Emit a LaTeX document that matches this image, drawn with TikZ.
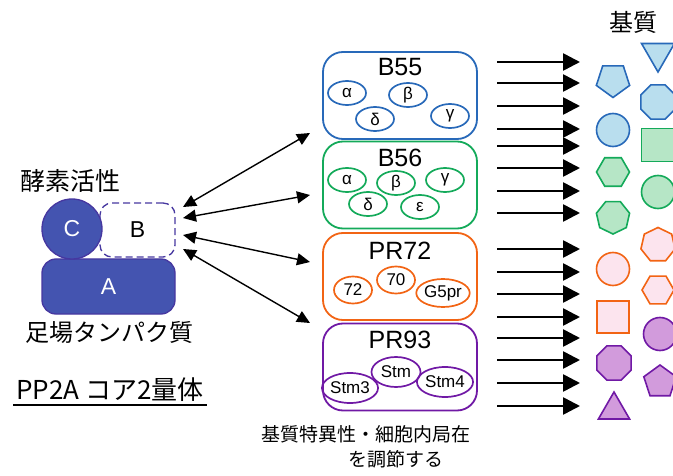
\documentclass[tikz,border=0pt]{standalone}
\usepackage{fontspec}
\setmainfont{Liberation Sans}
\newfontfamily\jp{Noto Sans CJK JP}
\usetikzlibrary{shapes.geometric,arrows.meta}
\definecolor{bS}{RGB}{40,105,185}
\definecolor{bF}{RGB}{185,222,238}
\definecolor{gS}{RGB}{20,170,90}
\definecolor{gF}{RGB}{182,230,198}
\definecolor{oS}{RGB}{242,100,20}
\definecolor{oF}{RGB}{252,228,238}
\definecolor{pS}{RGB}{112,25,165}
\definecolor{pF}{RGB}{210,155,220}
\definecolor{dF}{RGB}{68,84,176}
\definecolor{dS}{RGB}{70,55,160}
\tikzset{
  fs/.style={font=\fontsize{#1}{#1}\selectfont},
  family/.style={draw=#1, line width=1.8pt, rounded corners=20pt, minimum width=154pt, minimum height=87pt},
  sub/.style={draw=#1, line width=1.7pt, ellipse, inner sep=0pt, minimum width=38pt, minimum height=24pt, font=\fontsize{17}{17}\selectfont},
  shp/.style={draw=#1S, fill=#1F, line width=1.6pt, inner sep=0pt},
  poly/.style={regular polygon, regular polygon sides=#1},
  fat/.style={line width=2.6pt, -{Triangle[length=17pt,width=17pt]}},
  dbl/.style={line width=1.4pt, {Triangle[length=13pt,width=12pt]}-{Triangle[length=13pt,width=12pt]}},
  jptext/.style={font=\jp\fontsize{#1}{#1}\selectfont, inner sep=0pt}
}
\begin{document}
\begin{tikzpicture}[x=1pt,y=-1pt]
\useasboundingbox (0,0) rectangle (673,476);
\clip (0,0) rectangle (673,476);
% PP2A core
\node[jptext=25] (enz) at (70,181) {酵素活性};
\node[draw=dS, dashed, dash pattern=on 7pt off 4pt, line width=1.3pt, rounded corners=12pt, minimum width=75pt, minimum height=54pt] (B) at (137.5,230) {};
\node[draw=dS, fill=dF, line width=1.3pt, rounded corners=14pt, minimum width=133pt, minimum height=55pt] (A) at (108.5,286.5) {};
\node[draw=dS, fill=dF, line width=1.3pt, circle, minimum size=60pt, inner sep=0pt] (C) at (72,229) {};
\node[text=white, fs=23] at (C) {C};
\node[fs=23] at (B.center) {B};
\node[text=white, fs=23] at (A) {A};
\node[jptext=24] (scaf) at (110,332) {足場タンパク質};
\node[jptext=26] (core) at (110,390) {PP2A コア2量体};
\draw[line width=1.2pt] (13,405) -- (207,405);
% families
\node[family=bS] (B55) at (400,95.5) {};
\node[family=gS] (B56) at (400,185) {};
\node[family=oS] (PR72) at (400,276.5) {};
\node[family=pS] (PR93) at (400,367) {};
\node[fs=25] at (400,67) {B55};
\node[fs=25] at (400,158) {B56};
\node[fs=25] at (400,251) {PR72};
\node[fs=25] at (400,340) {PR93};
\node[sub=bS] (b55a) at (347,93) {α};
\node[sub=bS] (b55b) at (408,95) {β};
\node[sub=bS] (b55d) at (375,119) {δ};
\node[sub=bS] (b55g) at (450,116) {γ};
\node[sub=gS] (b56a) at (347,180) {α};
\node[sub=gS] (b56b) at (396,183) {β};
\node[sub=gS] (b56g) at (445,180) {γ};
\node[sub=gS] (b56d) at (368,204) {δ};
\node[sub=gS] (b56e) at (420,207) {ε};
\node[sub=oS, minimum width=38pt, minimum height=27pt] (p72) at (353,290) {72};
\node[sub=oS, minimum width=38pt, minimum height=27pt] (p70) at (396,280) {70};
\node[sub=oS, minimum width=49pt, minimum height=28pt] (g5) at (443,293) {G5pr};
\node[sub=pS, minimum width=49pt, minimum height=30pt] (stm) at (396,372) {Stm};
\node[sub=pS, minimum width=49pt, minimum height=30pt] (stm3) at (350,388) {Stm3};
\node[sub=pS, minimum width=49pt, minimum height=30pt] (stm4) at (445,382) {Stm4};
% double arrows
\coordinate (L1) at (183,207);
\coordinate (L2) at (183,218);
\coordinate (L3) at (183,235);
\coordinate (L4) at (183,249);
\coordinate (R1) at (310,133);
\coordinate (R2) at (310,195);
\coordinate (R3) at (310,262);
\coordinate (R4) at (310,323);
\foreach \i in {1,...,4} \draw[dbl] (L\i) -- (R\i);
% right arrows
\foreach \i/\y in {1/62,2/83,3/106,4/129,5/146,6/168,7/191,8/213,9/249,10/272,11/294,12/317,13/338,14/360,15/383,16/406} {
  \coordinate (s\i) at (497,\y);
  \coordinate (e\i) at (580,\y);
  \draw[fat] (s\i) -- (e\i);
}
% substrates
\node[jptext=24] (sub) at (633,22) {基質};
\node[shp=b, poly=5, minimum size=35pt, shape border rotate=180] (s1) at (613,80) {};
\node[shp=b, circle, minimum size=33pt] (s2) at (613,130) {};
\node[shp=g, poly=6, minimum size=33pt] (s3) at (613,172) {};
\node[shp=g, poly=7, minimum size=34pt, shape border rotate=180] (s4) at (613,217) {};
\node[shp=o, circle, minimum size=33pt] (s5) at (613,269) {};
\node[shp=o, poly=4, minimum size=46pt] (s6) at (613,317) {};
\node[shp=p, poly=8, minimum size=37pt] (s7) at (614,363) {};
\node[shp=p, poly=3, minimum size=36pt] (s8) at (614,410) {};
\node[shp=b, poly=3, minimum size=38pt, shape border rotate=180] (t1) at (658,53) {};
\node[shp=b, poly=8, minimum size=37pt] (t2) at (658,102) {};
\node[shp=g, poly=4, minimum size=47pt] (t3) at (658,145) {};
\node[shp=g, circle, minimum size=33pt] (t4) at (658,192) {};
\node[shp=o, poly=7, minimum size=35pt] (t5) at (658,245) {};
\node[shp=o, poly=6, minimum size=32pt] (t6) at (658,290) {};
\node[shp=p, circle, minimum size=33pt] (t7) at (660,334) {};
\node[shp=p, poly=5, minimum size=34pt] (t8) at (660,382) {};
% bottom text
\node[jptext=19] (reg1) at (366,434) {基質特異性・細胞内局在};
\node[jptext=19] (reg2) at (396,459) {を調節する};
\end{tikzpicture}
\end{document}
